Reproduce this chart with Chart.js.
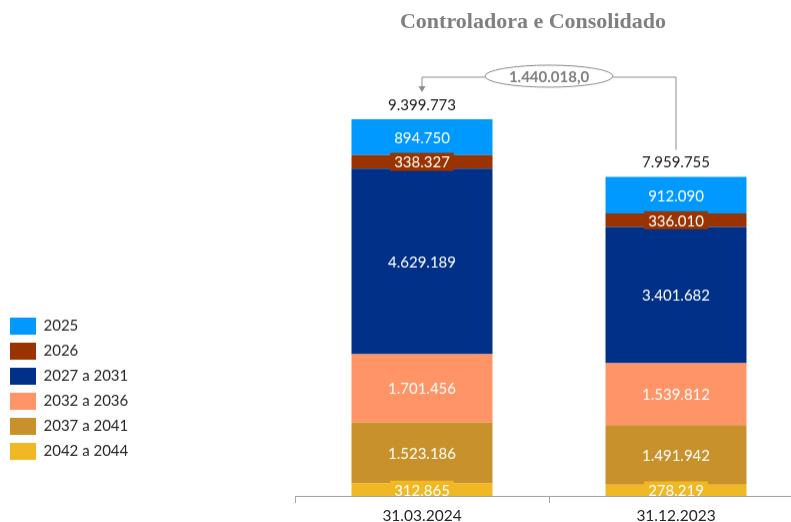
<!DOCTYPE html>
<html>
<head>
<meta charset="utf-8">
<script src="https://cdn.jsdelivr.net/npm/chart.js@4.4.1/dist/chart.umd.min.js"></script>
<style>
  html, body { margin: 0; padding: 0; background: #fff; overflow: hidden; }
  #wrap { position: relative; width: 1064px; height: 528.6px; }
</style>
</head>
<body>
<div id="wrap"><canvas id="chart"></canvas></div>
<script>
const categories = ['31.03.2024', '31.12.2023'];
const totals = [9399773, 7959755];
const v2025 = [894750, 912090];
const v2026 = [338327, 336010];
const v2027a2031 = [4629189, 3401682];
const v2032a2036 = [1701456, 1539812];
const v2037a2041 = [1523186, 1491942];
const v2042a2044 = [312865, 278219];
const diffLabel = '1.440.018,0';

const colors = {
  c2025: '#0099ff',
  c2026: '#993300',
  c2027: '#003087',
  c2032: '#ff9466',
  c2037: '#c9912b',
  c2042: '#f0b823',
  axis: '#a6a6a6',
  text: '#262626',
  callout: '#8c8c8c',
};

// separador de milhar no formato brasileiro
const fmt = v => String(v).replace(/\B(?=(\d{3})+(?!\d))/g, '.');

// rótulos dentro das barras + totais acima
const barLabels = {
  id: 'barLabels',
  afterDatasetsDraw(chart) {
    const { ctx, chartArea } = chart;
    ctx.save();
    ctx.beginPath();
    ctx.rect(chartArea.left, chartArea.top, chartArea.width, chartArea.height);
    ctx.clip();
    ctx.font = '15px Lato';
    ctx.textAlign = 'center';
    ctx.textBaseline = 'middle';
    chart.data.datasets.forEach((ds, i) => {
      chart.getDatasetMeta(i).data.forEach((bar, j) => {
        const text = fmt(ds.data[j]);
        const w = ctx.measureText(text).width + 8;
        const cy = (bar.y + bar.base) / 2;
        ctx.fillStyle = ds.backgroundColor;
        ctx.fillRect(bar.x - w / 2, cy - 9, w, 18);
        ctx.fillStyle = '#ffffff';
        ctx.fillText(text, bar.x, cy + 1);
      });
    });
    const top = chart.getDatasetMeta(chart.data.datasets.length - 1).data;
    ctx.fillStyle = '#1a1a1a';
    totals.forEach((t, j) => ctx.fillText(fmt(t), top[j].x, top[j].y - 14));
    ctx.restore();
  },
};

// elipse com a diferença entre os totais
const diffCallout = {
  id: 'diffCallout',
  afterDraw(chart) {
    const { ctx, chartArea } = chart;
    const top = chart.getDatasetMeta(chart.data.datasets.length - 1).data;
    const a = top[0], b = top[1];
    const lineY = chartArea.top + 2;
    const cx = (a.x + b.x) / 2;
    const rx = 64, ry = 11;
    ctx.save();
    ctx.strokeStyle = colors.callout;
    ctx.fillStyle = colors.callout;
    ctx.lineWidth = 1;
    ctx.beginPath();
    ctx.moveTo(cx + rx, lineY);
    ctx.lineTo(b.x, lineY);
    ctx.lineTo(b.x, b.y - 27);
    ctx.moveTo(cx - rx, lineY);
    ctx.lineTo(a.x, lineY);
    ctx.lineTo(a.x, a.y - 32);
    ctx.stroke();
    ctx.beginPath();
    ctx.moveTo(a.x - 3.5, a.y - 33);
    ctx.lineTo(a.x + 3.5, a.y - 33);
    ctx.lineTo(a.x, a.y - 27);
    ctx.closePath();
    ctx.fill();
    ctx.beginPath();
    ctx.ellipse(cx, lineY - 1, rx, ry, 0, 0, Math.PI * 2);
    ctx.fillStyle = '#ffffff';
    ctx.fill();
    ctx.stroke();
    ctx.fillStyle = '#7f7f7f';
    ctx.font = 'bold 15px Lato';
    ctx.textAlign = 'center';
    ctx.textBaseline = 'middle';
    ctx.fillText(diffLabel, cx, lineY);
    ctx.restore();
  },
};

function mkSet(label, data, color) {
  return { label, data, backgroundColor: color, borderWidth: 0, barPercentage: 0.555, categoryPercentage: 1 };
}

function draw() {
  Chart.defaults.font.family = 'Lato';
  new Chart(document.getElementById('chart').getContext('2d'), {
    type: 'bar',
    plugins: [barLabels, diffCallout],
    data: {
      labels: categories,
      datasets: [
        mkSet('2042 a 2044', v2042a2044, colors.c2042),
        mkSet('2037 a 2041', v2037a2041, colors.c2037),
        mkSet('2032 a 2036', v2032a2036, colors.c2032),
        mkSet('2027 a 2031', v2027a2031, colors.c2027),
        mkSet('2026', v2026, colors.c2026),
        mkSet('2025', v2025, colors.c2025),
      ],
    },
    options: {
      responsive: true,
      maintainAspectRatio: false,
      animation: false,
      layout: { padding: { left: 2, right: 0, top: 0, bottom: 0 } },
      scales: {
        x: {
          stacked: true,
          grid: { display: true, drawOnChartArea: false, drawTicks: true, tickLength: 7, color: colors.axis },
          border: { display: true, color: colors.axis, width: 1 },
          ticks: { color: colors.text, padding: 4, font: { size: 15.5 } },
        },
        y: {
          stacked: true,
          min: 0,
          max: 10500000,
          grid: { display: false },
          border: { display: false },
          ticks: { display: false },
          afterFit: (s) => { s.width = 295 - 2 - s.chart.legend.width; },
        },
        yPad: {
          type: 'linear',
          position: 'right',
          display: true,
          grid: { display: false },
          border: { display: false },
          ticks: { display: false },
          afterFit: (s) => { s.width = 261; },
        },
      },
      plugins: {
        title: {
          display: true,
          text: 'Controladora e Consolidado',
          color: '#7f7f7f',
          font: { family: 'Liberation Serif', size: 22, weight: 'bold' },
          padding: { top: 9, bottom: 39.6 },
        },
        legend: {
          position: 'left',
          align: 'start',
          reverse: true,
          title: { display: true, text: '', font: { size: 10, lineHeight: 1 }, padding: { top: 299, bottom: 0 } },
          labels: { boxWidth: 26, boxHeight: 17, padding: 8, color: colors.text, font: { size: 15 } },
        },
        tooltip: { enabled: false },
      },
    },
  });
}

document.fonts.load('15px Lato').then(draw, draw);
</script>
</body>
</html>
